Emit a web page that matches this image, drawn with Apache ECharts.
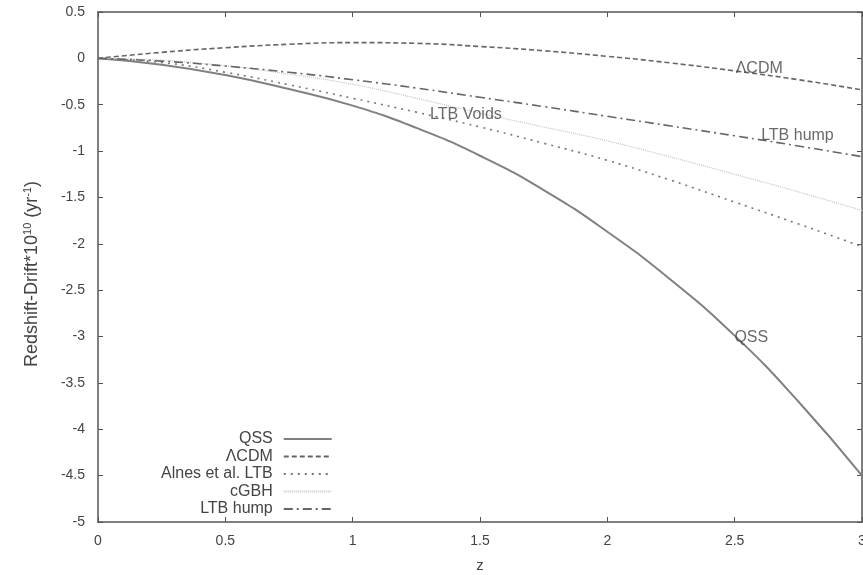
<!DOCTYPE html>
<html>
<head>
<meta charset="utf-8">
<script src="https://cdn.jsdelivr.net/npm/echarts@6/dist/echarts.min.js"></script>
<style>html,body{margin:0;padding:0;background:#fff}#c{width:863px;height:575px}</style>
</head>
<body>
<div id="c"></div>
<script>
const zValues = [0, 0.25, 0.5, 0.75, 1, 1.25, 1.5, 1.75, 2, 2.25, 2.5, 2.75, 3];
const qss     = [0, -0.07, -0.18, -0.33, -0.51, -0.75, -1.05, -1.42, -1.87, -2.39, -2.99, -3.70, -4.5];
const lcdm    = [0, 0.065, 0.115, 0.152, 0.17, 0.162, 0.128, 0.082, 0.022, -0.05, -0.135, -0.23, -0.34];
const alnes   = [0, -0.045, -0.15, -0.285, -0.43, -0.58, -0.74, -0.915, -1.10, -1.315, -1.55, -1.785, -2.03];
const cgbh    = [0, -0.02, -0.08, -0.17, -0.28, -0.43, -0.59, -0.74, -0.89, -1.065, -1.25, -1.44, -1.64];
const ltbHump = [0, -0.03, -0.083, -0.15, -0.23, -0.32, -0.42, -0.52, -0.625, -0.73, -0.835, -0.945, -1.06];
const seriesNames = ['QSS', 'ΛCDM', 'Alnes et al. LTB', 'cGBH', 'LTB hump'];
const annotations = [
  {text: 'ΛCDM', z: 2.50, v: -0.086},
  {text: 'LTB hump', z: 2.60, v: -0.816},
  {text: 'LTB Voids', z: 1.30, v: -0.58},
  {text: 'QSS', z: 2.495, v: -2.986}
];

const pair = arr => zValues.map((z, i) => [z, arr[i]]);
const chart = echarts.init(document.getElementById('c'));
const axisCol = '#555';
const font = 'Liberation Sans, Arial, sans-serif';

const styles = [
  {color: '#808080', width: 2, type: 'solid'},
  {color: '#666', width: 1.6, type: [5, 3]},
  {color: '#777', width: 1.6, type: [2, 5]},
  {color: '#c4c4c4', width: 1.2, type: [1, 1]},
  {color: '#666', width: 1.6, type: [9, 4, 2, 4]}
];
const datas = [qss, lcdm, alnes, cgbh, ltbHump];

const series = datas.map((d, i) => ({
  name: seriesNames[i],
  type: 'line',
  data: pair(d),
  smooth: true,
  symbol: 'none',
  showSymbol: false,
  lineStyle: styles[i],
  itemStyle: {color: styles[i].color},
  z: 3
}));
series.push({
  type: 'scatter',
  data: annotations.map(a => ({value: [a.z, a.v], name: a.text})),
  symbolSize: 0,
  silent: true,
  label: {
    show: true,
    formatter: p => p.name,
    position: [0, 0],
    offset: [1, 2],
    align: 'left',
    verticalAlign: 'middle',
    fontSize: 16,
    fontFamily: font,
    color: '#444'
  },
  z: 5
});

chart.setOption({
  animation: false,
  grid: {left: 98, right: 1, top: 12, bottom: 53, outerBoundsMode: 'none', containLabel: false},
  legend: {
    data: seriesNames.map(n => ({name: n, itemStyle: {opacity: 0}})),
    orient: 'vertical',
    left: 156,
    top: 426,
    align: 'right',
    itemWidth: 48,
    itemHeight: 12,
    itemGap: 1.5,
    textStyle: {fontSize: 16, fontFamily: font, color: '#444', width: 124, align: 'right', padding: [0, 6, 0, 0]}
  },
  xAxis: [{
    type: 'value', min: 0, max: 3, interval: 0.5,
    name: 'z', nameLocation: 'middle', nameGap: 36,
    nameTextStyle: {fontSize: 15, fontFamily: font, color: '#444'},
    axisLine: {show: true, onZero: false, lineStyle: {color: axisCol, width: 1.5}},
    axisTick: {show: true, inside: true, length: 5, lineStyle: {color: axisCol}},
    axisLabel: {fontSize: 14, fontFamily: font, color: '#444', margin: 12},
    splitLine: {show: false}
  }, {
    type: 'value', min: 0, max: 3, interval: 0.5, position: 'top',
    axisLine: {show: true, onZero: false, lineStyle: {color: axisCol, width: 1.5}},
    axisTick: {show: true, inside: true, length: 5, lineStyle: {color: axisCol}},
    axisLabel: {show: false},
    splitLine: {show: false}
  }],
  yAxis: [{
    type: 'value', min: -5, max: 0.5, interval: 0.5,
    name: '{a|Redshift-Drift*10}{s|10}{a| (yr}{s|-1}{a|)}',
    nameLocation: 'middle', nameGap: 56, nameRotate: 90,
    nameTextStyle: {
      padding: [0, 14, 0, 0],
      rich: {
        a: {fontSize: 18, fontFamily: font, color: '#444'},
        s: {fontSize: 11, fontFamily: font, color: '#444', verticalAlign: 'top', padding: [0, 0, 9, 0]}
      }
    },
    axisLine: {show: true, onZero: false, lineStyle: {color: axisCol, width: 1.5}},
    axisTick: {show: true, inside: true, length: 5, lineStyle: {color: axisCol}},
    axisLabel: {fontSize: 14, fontFamily: font, color: '#444', margin: 13},
    splitLine: {show: false}
  }, {
    type: 'value', min: -5, max: 0.5, interval: 0.5, position: 'right',
    axisLine: {show: true, onZero: false, lineStyle: {color: axisCol, width: 1.5}},
    axisTick: {show: true, inside: true, length: 5, lineStyle: {color: axisCol}},
    axisLabel: {show: false},
    splitLine: {show: false}
  }],
  series: series
});
</script>
</body>
</html>
